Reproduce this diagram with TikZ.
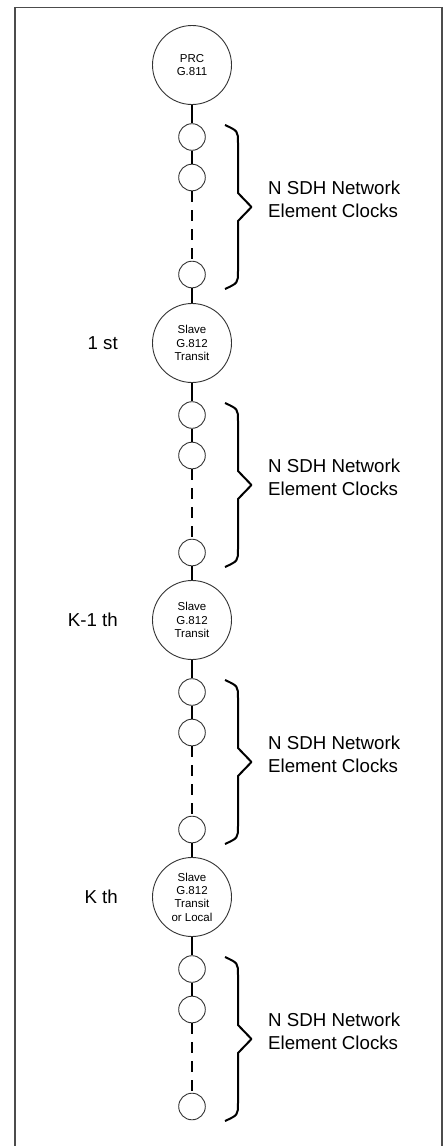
\documentclass[tikz,border=0pt]{standalone}
\usepackage{fontspec}
\setmainfont{Liberation Sans}
\begin{document}
\begin{tikzpicture}[x=1pt,y=-1pt,
  clockbig/.style={circle,draw=black!80,line width=0.9pt,minimum size=79pt,inner sep=0pt,align=center,font=\fontsize{11.5}{13.3}\selectfont},
  clocksmall/.style={circle,draw=black!80,line width=0.9pt,minimum size=26.6pt,inner sep=0pt},
  link/.style={line width=1.6pt},
  dashlink/.style={line width=1.3pt,dash pattern=on 11pt off 8pt},
  bracket/.style={line width=2pt,line join=round},
  tag/.style={font=\fontsize{18.7}{22.5}\selectfont,inner sep=0pt},
  frame/.style={draw=black!70,line width=1.6pt}]
\useasboundingbox (0,0) rectangle (446,1146);
\draw[frame] (15,1146) -- (15,7.5) -- (442,7.5) -- (442,1146);

% reference and slave clocks
\node[clockbig] (b1) at (192,65) {PRC\\G.811};
\node[clockbig] (b2) at (192,343) {Slave\\G.812\\Transit};
\node[clockbig] (b3) at (192,620) {Slave\\G.812\\Transit};
\node[clockbig] (b4) at (192,897) {Slave\\G.812\\Transit\\or Local};

% ordinal labels
\node[tag,anchor=east] (r2) at (118,343) {1 st};
\node[tag,anchor=east] (r3) at (118,620) {K-1 th};
\node[tag,anchor=east] (r4) at (118,897) {K th};

% chains of network element clocks
\foreach \c/\n in {65/1,343/2,620/3,897/4}{
  \node[clocksmall] (ne\n-1) at (192,{\c+72}) {};
  \node[clocksmall] (ne\n-2) at (192,{\c+112.5}) {};
  \node[clocksmall] (ne\n-3) at (192,{\c+209.5}) {};
  \draw[link] (b\n) -- (ne\n-1);
  \draw[link] (ne\n-1) -- (ne\n-2);
  \draw[dashlink] (ne\n-2) -- (ne\n-3);
  \draw[bracket] (225,{\c+60}) .. controls (238,{\c+66}) .. (238,{\c+78})
    -- (238,{\c+128}) -- (251.5,{\c+142}) -- (238,{\c+156})
    -- (238,{\c+206}) .. controls (238,{\c+218}) .. (225,{\c+224});
  \node[tag,anchor=west,align=left] (t\n) at (268,{\c+134.5}) {N SDH Network\\Element Clocks};
}

% links into the next slave clock
\draw[link] (ne1-3) -- (b2);
\draw[link] (ne2-3) -- (b3);
\draw[link] (ne3-3) -- (b4);
\end{tikzpicture}
\end{document}
